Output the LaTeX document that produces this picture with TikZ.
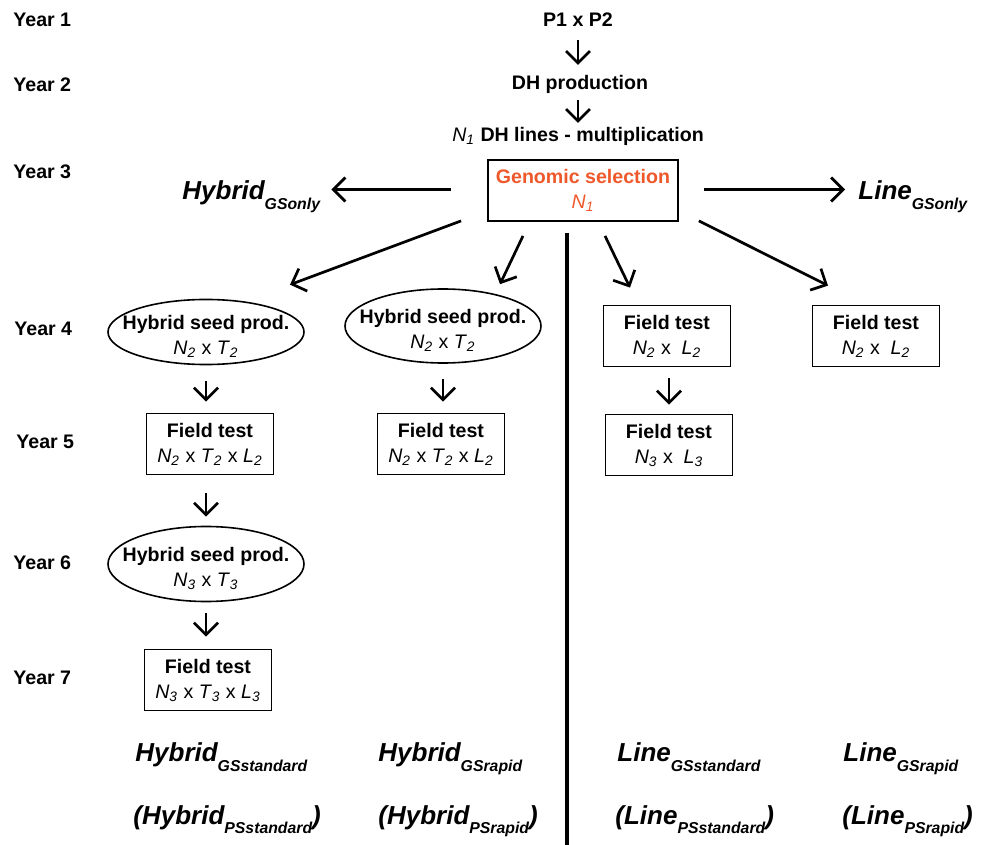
\documentclass[tikz,border=0pt]{standalone}
\usepackage{fontspec}
\setmainfont{Liberation Sans}
\usepackage{xcolor}
\definecolor{gsorange}{RGB}{238,88,42}
\usetikzlibrary{calc,arrows.meta,shapes}
\newcommand{\varsub}[2]{\textit{#1}\textsubscript{\textit{#2}}}
\newcommand{\schemesub}[1]{\raisebox{-5pt}{\fontsize{7.9}{9}\selectfont #1}}
\tikzset{
    yearlbl/.style={
    anchor=west,inner sep=0pt,font=\bfseries\fontsize{9.8}{12.5}\selectfont
    },
    steplbl/.style={
    inner sep=2pt,align=center,font=\bfseries\fontsize{9.8}{12.5}\selectfont
    },
    fieldbox/.style={
    rectangle,draw=black,line width=0.9pt,minimum width=63.5pt,minimum height=30.5pt,
    inner sep=0pt,align=center,font=\bfseries\fontsize{9.8}{12.5}\selectfont
    },
    seedell/.style={
    ellipse,draw=black,line width=0.8pt,minimum width=98pt,text height=23pt,text depth=0pt,
    inner xsep=-10.2pt,inner ysep=0pt,align=center,font=\bfseries\fontsize{9.8}{12.5}\selectfont
    },
    gsbox/.style={
    rectangle,draw=black,line width=0.9pt,minimum width=95pt,minimum height=30.5pt,
    inner sep=0pt,align=center,text=gsorange,font=\bfseries\fontsize{9.8}{12.5}\selectfont
    },
    schemelbl/.style={
    anchor=base west,inner sep=2pt,font=\bfseries\itshape\fontsize{13}{15}\selectfont
    },
  arrline/.style={draw, line width=1.35pt, -{Straight Barb[length=6pt,width=12pt]}},
  divider/.style={draw, line width=2.2pt}
}
\begin{document}
\begin{tikzpicture}[x=0.5pt,y=-0.5pt]
    \useasboundingbox (0,0) rectangle (987,845);

    % years
    \node[yearlbl] (yr1) at (13,20) {Year 1};
    \node[yearlbl] (yr2) at (13,85) {Year 2};
    \node[yearlbl] (yr3) at (13,172) {Year 3};
    \node[yearlbl] (yr4) at (14,329) {Year 4};
    \node[yearlbl] (yr5) at (16,442) {Year 5};
    \node[yearlbl] (yr6) at (13,563) {Year 6};
    \node[yearlbl] (yr7) at (13,678) {Year 7};

    % top of the scheme
    \node[steplbl] (p12) at (578,20) {P1 x P2};
    \node[steplbl] (dhp) at (580,84) {DH production};
    \node[steplbl] (dhl) at (578,136) {{\mdseries\varsub{N}{1}} DH lines - multiplication};
    \node[gsbox] (gs) at (583,190.5) {Genomic selection\\{\mdseries\varsub{N}{1}}};

    \node[schemelbl] (hgs) at (178,200) {Hybrid\schemesub{GSonly}};
    \node[schemelbl] (lgs) at (854,200) {Line\schemesub{GSonly}};

    % hybrid side
    \node[seedell,minimum height=31pt] (hs1) at (206,332) {Hybrid seed prod.\\{\mdseries\varsub{N}{2} x \varsub{T}{2}}};
    \node[seedell,minimum height=37pt] (hs2) at (443,326) {Hybrid seed prod.\\{\mdseries\varsub{N}{2} x \varsub{T}{2}}};
    \node[fieldbox] (ft1) at (210,444) {Field test\\{\mdseries\varsub{N}{2} x \varsub{T}{2} x \varsub{L}{2}}};
    \node[fieldbox] (ft2) at (441,444) {Field test\\{\mdseries\varsub{N}{2} x \varsub{T}{2} x \varsub{L}{2}}};
    \node[seedell,minimum height=37.5pt] (hs3) at (206,564) {Hybrid seed prod.\\{\mdseries\varsub{N}{3} x \varsub{T}{3}}};
    \node[fieldbox] (ft3) at (208,680) {Field test\\{\mdseries\varsub{N}{3} x \varsub{T}{3} x \varsub{L}{3}}};

    % line side
    \node[fieldbox] (fr1) at (667,336) {Field test\\{\mdseries\varsub{N}{2} x~ \varsub{L}{2}}};
    \node[fieldbox] (fr2) at (876,336) {Field test\\{\mdseries\varsub{N}{2} x~ \varsub{L}{2}}};
    \node[fieldbox] (fr3) at (669,445) {Field test\\{\mdseries\varsub{N}{3} x~ \varsub{L}{3}}};

    % scheme names
    \node[schemelbl] (hstd) at (131,762) {Hybrid\schemesub{GSstandard}};
    \node[schemelbl] (hpstd) at (129,824) {(Hybrid\schemesub{PSstandard})};
    \node[schemelbl] (hrap) at (374,762) {Hybrid\schemesub{GSrapid}};
    \node[schemelbl] (hprap) at (374,824) {(Hybrid\schemesub{PSrapid})};
    \node[schemelbl] (lstd) at (613,762) {Line\schemesub{GSstandard}};
    \node[schemelbl] (lpstd) at (611,824) {(Line\schemesub{PSstandard})};
    \node[schemelbl] (lrap) at (839,762) {Line\schemesub{GSrapid}};
    \node[schemelbl] (lprap) at (838,824) {(Line\schemesub{PSrapid})};

    \coordinate (divbot) at (567,845);
    \path[divider] ($(gs.south)+(-16,11)$) -- (divbot);

    \begin{scope} [every path/.style=arrline]
      \path[shorten <=10pt, shorten >=9.5pt] (p12.center) -- (p12.center |- dhp.center);
      \path[shorten <=8pt, shorten >=6.5pt] (p12.center |- dhp.center) -- (p12.center |- dhl.center);

      \path ($(gs.west)+(-36,-1)$) -- ($(hgs.east |- gs.west)+(7,-1)$);
      \path ($(gs.east)+(25,-1)$) -- ($(lgs.west |- gs.east)+(-9,-1)$);

      \path ($(gs.south west)+(-26,-1)$) -- ($(hs1.north)+(84,-14)$);
      \path ($(gs.south)+(-60,14)$) -- ($(hs2.north)+(57,-4)$);
      \path ($(gs.south)+(22,14)$) -- ($(fr1.north)+(-37,-17)$);
      \path ($(gs.south east)+(20,-1)$) -- ($(fr2.north)+(-48,-19)$);

      \path[shorten <=8pt, shorten >=5.5pt] (hs1.south) -- (hs1.south |- ft1.north);
      \path[shorten <=7.5pt, shorten >=5.5pt] (hs2.south) -- (hs2.south |- ft2.north);
      \path[shorten <=9pt, shorten >=4.5pt] (ft1.south -| hs3.north) -- (hs3.north);
      \path[shorten <=5.5pt, shorten >=6pt] (hs3.south) -- (hs3.south |- ft3.north);
      \path[shorten <=5.5pt, shorten >=4.5pt] (fr1.south -| fr3.north) -- (fr3.north);
    \end{scope}

  \end{tikzpicture}
\end{document}
